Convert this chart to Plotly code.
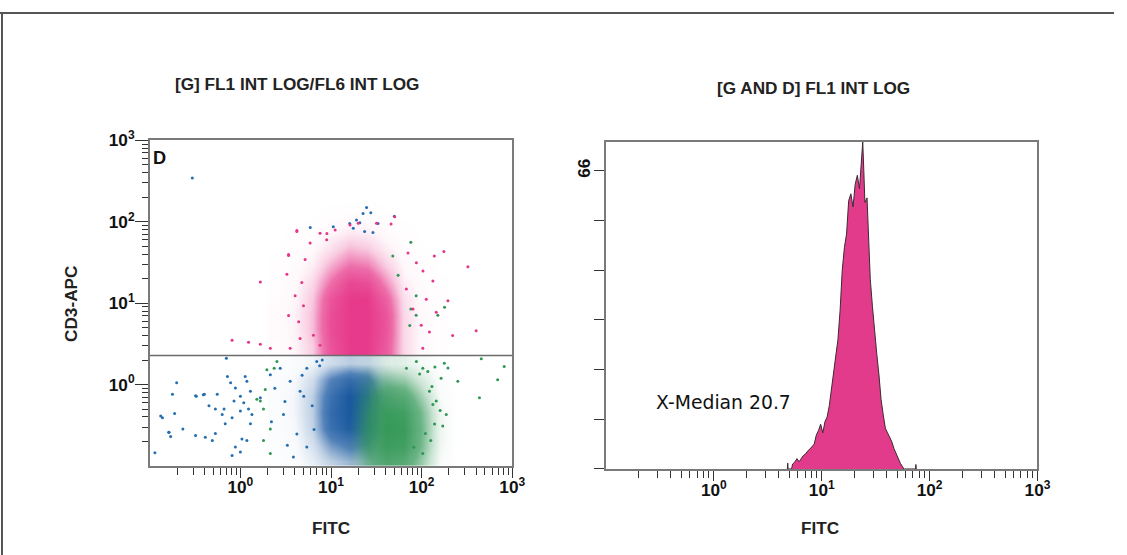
import plotly.graph_objects as go

W, H = 1127, 555
# the photographed page maps figure pixels as obs = O + S * fig; place items so they land on target
SX, OX = 0.988, 1.0
SY, OY = 0.984, 10.4

# ---------------- data: left dot plot (FITC vs CD3-APC) ----------------
GATE_CD3 = 2.27

# density grids (bin centres are log10 of the channel value)
PINK_X_LOG = [0.4, 0.6, 0.8, 1.0, 1.2, 1.4, 1.6, 1.8, 2.0, 2.2]
PINK_Y_LOG = [0.456, 0.656, 0.856, 1.056, 1.256, 1.456, 1.656, 1.856, 2.056, 2.256]
PINK_Z = [
    [0.04, 0.10, 0.30, 0.80, 1.00, 1.00, 0.75, 0.25, 0.08, 0.02],
    [0.05, 0.12, 0.35, 0.85, 1.00, 1.00, 0.80, 0.25, 0.08, 0.02],
    [0.05, 0.12, 0.35, 0.85, 1.00, 1.00, 0.80, 0.25, 0.07, 0.02],
    [0.04, 0.10, 0.32, 0.80, 1.00, 1.00, 0.70, 0.22, 0.06, 0.02],
    [0.02, 0.08, 0.25, 0.60, 0.90, 0.85, 0.50, 0.15, 0.05, 0.01],
    [0.01, 0.05, 0.15, 0.40, 0.60, 0.55, 0.30, 0.09, 0.03, 0.00],
    [0.00, 0.03, 0.08, 0.22, 0.38, 0.32, 0.16, 0.05, 0.01, 0.00],
    [0.00, 0.01, 0.03, 0.10, 0.18, 0.15, 0.07, 0.02, 0.00, 0.00],
    [0.00, 0.00, 0.00, 0.02, 0.05, 0.04, 0.01, 0.00, 0.00, 0.00],
    [0.00, 0.00, 0.00, 0.00, 0.00, 0.00, 0.00, 0.00, 0.00, 0.00],
]

LOW_Y_LOG = [-0.944, -0.744, -0.544, -0.344, -0.144, 0.056, 0.256]
BLUE_X_LOG = [0.4, 0.6, 0.8, 1.0, 1.2, 1.4, 1.6, 1.8, 2.0, 2.2]
BLUE_Z = [
    [0.02, 0.06, 0.15, 0.30, 0.40, 0.32, 0.12, 0.03, 0.00, 0.00],
    [0.03, 0.08, 0.22, 0.50, 0.65, 0.55, 0.18, 0.04, 0.00, 0.00],
    [0.04, 0.10, 0.30, 0.75, 0.95, 0.85, 0.25, 0.05, 0.01, 0.00],
    [0.05, 0.12, 0.32, 0.80, 1.00, 0.90, 0.30, 0.06, 0.01, 0.00],
    [0.05, 0.12, 0.32, 0.75, 1.00, 0.90, 0.30, 0.06, 0.01, 0.00],
    [0.04, 0.10, 0.25, 0.60, 0.80, 0.70, 0.22, 0.05, 0.01, 0.00],
    [0.02, 0.06, 0.12, 0.25, 0.32, 0.28, 0.10, 0.03, 0.01, 0.00],
]
GREEN_X_LOG = [0.8, 1.0, 1.2, 1.4, 1.6, 1.8, 2.0, 2.2, 2.4]
GREEN_Z = [
    [0.02, 0.05, 0.10, 0.50, 0.80, 0.75, 0.45, 0.10, 0.00],
    [0.02, 0.05, 0.12, 0.60, 0.95, 0.92, 0.55, 0.14, 0.01],
    [0.02, 0.05, 0.12, 0.60, 1.00, 0.97, 0.58, 0.15, 0.01],
    [0.02, 0.05, 0.12, 0.55, 0.95, 0.92, 0.55, 0.14, 0.01],
    [0.02, 0.04, 0.10, 0.45, 0.78, 0.75, 0.42, 0.10, 0.00],
    [0.01, 0.03, 0.07, 0.28, 0.48, 0.45, 0.24, 0.06, 0.00],
    [0.01, 0.02, 0.04, 0.12, 0.20, 0.18, 0.10, 0.03, 0.00],
]

# sparse events
BLUE_FITC = [0.70, 0.198, 0.178, 0.138, 0.188, 0.232, 0.163, 0.17, 0.114, 0.326, 0.40, 0.555,
             0.45, 0.53, 0.63, 0.68, 0.81, 0.78, 0.88, 0.72, 1.0, 1.13, 1.18, 1.29, 1.09, 1.23,
             1.34, 0.32, 0.41, 0.49, 0.53, 0.66, 0.85, 1.0, 1.29, 0.81, 1.0, 0.88, 0.32, 0.39,
             0.132, 0.162, 1.04, 1.18, 2.14, 2.75, 3.54, 1.66, 4.56, 5.41, 6.96, 2.99, 4.2,
             5.41, 3.85, 0.295, 24.7, 27.5, 22.6, 19.1, 16.1, 20.8, 17.6, 23.5, 10.6, 5.9,
             29.0, 33.0, 50.0, 2.4, 3.1, 4.8, 6.2, 7.5, 2.2, 3.3, 5.0, 6.5, 8.0]
BLUE_CD3 = [2.11, 1.05, 0.76, 0.39, 0.44, 0.285, 0.26, 0.23, 0.145, 0.72, 0.76, 0.76,
            0.55, 0.50, 0.43, 0.33, 0.39, 1.05, 0.91, 1.26, 0.72, 1.26, 1.10, 0.83, 0.60, 0.50,
            0.43, 0.237, 0.226, 0.206, 0.25, 0.50, 0.63, 0.475, 0.33, 0.135, 0.149, 0.171, 0.73, 0.75,
            0.41, 0.26, 0.215, 0.206, 1.32, 1.59, 1.10, 0.69, 0.83, 1.59, 1.92, 0.43, 0.248,
            0.171, 0.129, 345, 150, 129, 126, 105, 95, 97, 83, 76, 87, 85,
            74, 95, 117, 0.9, 0.62, 1.3, 0.55, 1.7, 0.35, 0.18, 0.72, 0.28, 2.0]
GREEN_FITC = [1.52, 1.66, 1.88, 1.96, 2.36, 2.53, 1.80, 2.14, 1.80, 2.14, 76, 48, 55, 87, 76, 87,
              74, 179, 151, 690, 815, 435, 455, 195, 171, 133, 251, 117, 178, 122, 145, 164,
              103, 87.5, 139, 126, 103, 68, 187, 110, 95, 130, 160, 82, 140]
GREEN_CD3 = [0.66, 0.63, 0.87, 1.52, 1.59, 1.92, 0.50, 0.285, 0.206, 0.142, 56, 38, 22, 12.3, 8.5,
             7.1, 5.3, 8.9, 7.1, 1.15, 1.67, 0.69, 2.07, 1.6, 0.31, 0.57, 1.1, 1.45, 1.83, 0.83,
             0.63, 1.2, 1.59, 1.92, 0.327, 0.206, 0.142, 1.59, 0.43, 0.25, 1.35, 0.95, 0.48, 0.17, 1.65]
PINK_FITC = [1.66, 3.4, 4.2, 324, 176, 138, 195, 46, 9.0, 0.81, 1.23, 1.66, 2.14, 400, 220, 103,
             4.4, 3.40, 4.2, 5.18, 3.26, 4.02, 3.40, 4.76, 4.97, 5.88, 7.57, 8.96, 11.1, 16.2,
             19.95, 31.8, 50.5, 70.7, 87.5, 103.5, 112.5, 133, 145, 99, 122, 80.3, 67.9, 6.4,
             4.56, 7.57, 3.54]
PINK_CD3 = [18.2, 38.4, 78, 28, 43, 38, 10.7, 94, 72, 3.5, 3.3, 3.14, 2.8, 4.6, 4.0, 2.8,
            5.9, 39.5, 75.7, 34.4, 22.6, 12.3, 7.05, 17.9, 9.33, 54.7, 72.3, 60, 79.3, 91.2,
            95.6, 95.6, 115, 41.4, 31.3, 24.8, 11.2, 18.7, 7.76, 5.34, 4.44, 8.5, 14.9, 4.04,
            3.68, 3.05, 2.79]

# ---------------- data: right histogram (FITC) ----------------
HIST_FITC = [4.80, 4.84, 4.88, 5.25, 5.37, 5.62, 5.89, 6.17, 6.46, 6.76, 7.08, 7.41, 7.76, 8.13,
             8.51, 8.91, 9.33, 9.77, 10.23, 10.72, 11.22, 11.75, 12.30, 12.88, 13.49, 14.13,
             14.79, 15.49, 16.22, 16.98, 17.78, 18.62, 19.50, 20.42, 21.38, 22.39, 23.44,
             23.99, 24.55, 25.12, 26.30, 26.92, 28.18, 29.51, 30.90, 32.36, 33.88, 35.48,
             37.15, 38.90, 40.74, 42.66, 44.67, 46.77, 48.98, 51.29, 53.70, 56.23, 57.54,
             74.0, 74.6, 75.2]
HIST_COUNT = [0, 1.3, 0, 0, 1.1, 1.5, 2.3, 1.6, 2.3, 3.0, 3.3, 4.0, 4.4, 5.0,
              5.5, 7.5, 8.5, 9.9, 8.0, 10.5, 11.5, 14.0, 18.0, 22.0, 25.0, 28.6,
              35.0, 44.0, 49.0, 52.0, 59.4, 60.9, 58.0, 63.0, 65.0, 62.0, 68.0,
              72.4, 66.0, 59.0, 60.0, 55.0, 42.0, 36.0, 30.0, 25.5, 21.0, 15.4,
              12.0, 9.0, 8.0, 7.0, 6.0, 4.5, 3.3, 2.2, 1.2, 0.5, 0,
              0, 1.0, 0]

LOG_TICKS = [1, 10, 100, 1000]
LOG_TICKTEXT = ["10<sup>0</sup>", "10<sup>1</sup>", "10<sup>2</sup>", "10<sup>3</sup>"]
MINOR_TICKS = [m * 10 ** e for e in range(-1, 3) for m in range(2, 10)]
HIST_YTICKS = [0, 11, 22, 33, 44, 55, 66]
HIST_YTICKTEXT = ["", "", "", "", "", "", "66"]

PINK = (230, 52, 136)
BLUE = (16, 80, 160)
GREEN = (48, 150, 84)


def rgba(c, a):
    return "rgba(%d,%d,%d,%.2f)" % (c[0], c[1], c[2], a)


def cscale(c):
    return [[0, rgba(c, 0)], [0.1, rgba(c, 0.04)], [0.3, rgba(c, 0.25)],
            [0.6, rgba(c, 0.72)], [1, rgba(c, 0.97)]]


def px_x(p):
    return ((p - OX) / SX) / W


def px_y(p):
    return 1 - ((p - OY) / SY) / H


TICKFONT = dict(family="Liberation Sans, Arial", size=17.2, color="#111", weight="bold")

fig = go.Figure()

# density heatmaps (hidden linear log-unit axes x/y)
for xs, zs, col in [(BLUE_X_LOG, BLUE_Z, BLUE), (GREEN_X_LOG, GREEN_Z, GREEN)]:
    fig.add_trace(go.Heatmap(x=xs, y=LOW_Y_LOG, z=zs, zmin=0, zmax=1, zsmooth="best",
                             colorscale=cscale(col), showscale=False, hoverinfo="skip",
                             xaxis="x", yaxis="y"))
fig.add_trace(go.Heatmap(x=PINK_X_LOG, y=PINK_Y_LOG, z=PINK_Z, zmin=0, zmax=1, zsmooth="best",
                         colorscale=cscale(PINK), showscale=False, hoverinfo="skip",
                         xaxis="x", yaxis="y"))

# sparse events on the visible log axes
for xs, ys, col in [(BLUE_FITC, BLUE_CD3, (36, 110, 178)), (GREEN_FITC, GREEN_CD3, GREEN),
                    (PINK_FITC, PINK_CD3, PINK)]:
    fig.add_trace(go.Scatter(x=xs, y=ys, mode="markers", xaxis="x3", yaxis="y3",
                             marker=dict(size=3, color=rgba(col, 1), line=dict(width=0)),
                             hoverinfo="skip", showlegend=False))

# gate line
fig.add_trace(go.Scatter(x=[0.1, 1000], y=[GATE_CD3, GATE_CD3], mode="lines", xaxis="x3", yaxis="y3",
                         line=dict(color="#6b6b6b", width=1.5), hoverinfo="skip", showlegend=False))

# histogram
fig.add_trace(go.Scatter(x=HIST_FITC, y=HIST_COUNT, mode="lines", fill="tozeroy",
                         fillcolor="#E23B8B", line=dict(color="#3b2a33", width=1),
                         xaxis="x2", yaxis="y2", hoverinfo="skip", showlegend=False))

L_DOM_X = [px_x(150.7), px_x(513)]
L_DOM_Y = [px_y(467), px_y(139.5)]
R_DOM_X = [px_x(606.7), px_x(1038)]
R_DOM_Y = [px_y(470), px_y(141)]

common_log = dict(type="log", range=[-1, 3], tickmode="array", tickvals=LOG_TICKS,
                  ticktext=LOG_TICKTEXT, ticks="outside", tickcolor="#333", tickwidth=1.3,
                  showline=True, linecolor="#7a7a7a", linewidth=1.5, mirror=True,
                  showgrid=False, zeroline=False, tickfont=TICKFONT)
minor_x = dict(tickvals=MINOR_TICKS, ticks="outside", ticklen=7,
               tickcolor="#333", tickwidth=1.3, showgrid=False)
minor_y = dict(tickvals=MINOR_TICKS, ticks="outside", ticklen=6,
               tickcolor="#333", tickwidth=1.3, showgrid=False)

fig.update_layout(
    width=W, height=H, autosize=False,
    margin=dict(l=0, r=0, t=0, b=0),
    paper_bgcolor="white", plot_bgcolor="rgba(0,0,0,0)",
    showlegend=False,
    xaxis=dict(domain=L_DOM_X, range=[-1, 3], visible=False, anchor="y"),
    yaxis=dict(domain=L_DOM_Y, range=[-1, 3], visible=False, anchor="x"),
    xaxis3=dict(overlaying="x", anchor="y3", ticklen=10, minor=minor_x,
                ticklabelstandoff=-5, **common_log),
    yaxis3=dict(overlaying="y", anchor="x3", ticklen=13, minor=minor_y,
                ticklabelstandoff=-3, **common_log),
    xaxis2=dict(domain=R_DOM_X, anchor="y2", ticklen=10, minor=minor_x,
                ticklabelstandoff=-5, **common_log),
    yaxis2=dict(domain=R_DOM_Y, anchor="x2", range=[0, 72.4], tickmode="array",
                tickvals=HIST_YTICKS, ticktext=HIST_YTICKTEXT, tickangle=-90,
                ticks="outside", ticklen=10, tickcolor="#333", tickwidth=1.3,
                ticklabelstandoff=-3,
                showline=True, linecolor="#7a7a7a", linewidth=1.5, mirror=True,
                showgrid=False, zeroline=False, tickfont=TICKFONT),
)

TITLEFONT = dict(family="Liberation Sans, Arial", size=17.2, color="#222", weight="bold")
ann = [
    dict(text="[G] FL1 INT LOG/FL6 INT LOG", x=px_x(297.5), y=px_y(83), font=TITLEFONT),
    dict(text="[G AND D] FL1 INT LOG", x=px_x(814), y=px_y(86.5), font=TITLEFONT),
    dict(text="CD3-APC", x=px_x(72), y=px_y(304), textangle=-90, font=TITLEFONT),
    dict(text="FITC", x=px_x(332), y=px_y(529), font=TITLEFONT),
    dict(text="FITC", x=px_x(821), y=px_y(529), font=TITLEFONT),
    dict(text="D", x=px_x(152), y=px_y(157), xanchor="left",
         font=dict(family="Liberation Sans, Arial", size=18.2, color="#111", weight="bold")),
    dict(text="X-Median 20.7", x=px_x(724), y=px_y(403),
         font=dict(family="DejaVu Sans", size=18.8, color="#111")),
]
for a in ann:
    a.setdefault("xanchor", "center")
    fig.add_annotation(xref="paper", yref="paper", showarrow=False, yanchor="middle", **a)

# outer frame (top and left edges)
fig.add_shape(type="line", xref="paper", yref="paper", x0=0, x1=1, y0=1 - 1 / H,
              y1=1 - 1 / H, line=dict(color="#555", width=2))
fig.add_shape(type="line", xref="paper", yref="paper", x0=px_x(3), x1=px_x(3), y0=0,
              y1=1 - 1 / H, line=dict(color="#555", width=2))

fig.write_html("out.html")
